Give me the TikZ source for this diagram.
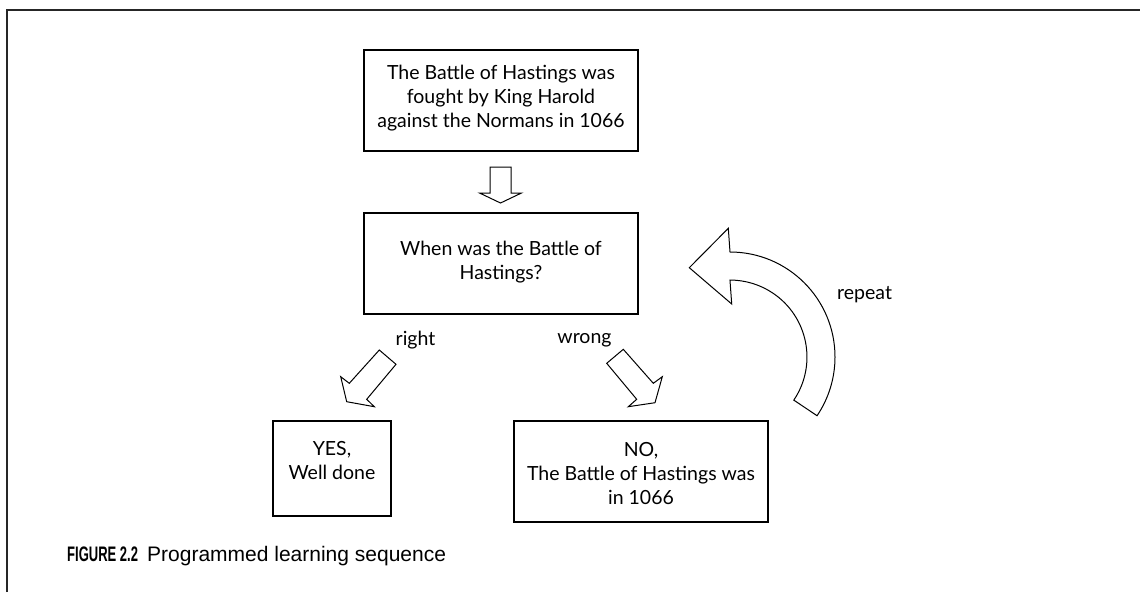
\documentclass[tikz,border=0pt]{standalone}
\usepackage{fontspec}
\setmainfont{Lato}
\newfontfamily\capfont{Liberation Sans}
\newfontfamily\capnumfont[FakeStretch=0.62]{Liberation Sans}
\begin{document}
\begin{tikzpicture}[x=1pt,y=-1pt,
  box/.style={draw, line width=1.1pt, inner sep=0pt},
  txt/.style={align=center, font=\fontsize{19.5}{24}\selectfont, inner sep=0pt},
  lbl/.style={font=\fontsize{19.5}{22}\selectfont, inner sep=0pt},
  blockarrow/.style={draw, line width=1pt, line join=miter, fill=white},
  captxt/.style={anchor=base west, inner sep=0pt}]

\useasboundingbox (0,0) rectangle (1140,592);

% open frame: top rule and left rule
\draw[line width=1.3pt, black!85] (7,592) -- (7,10) -- (1140,10);

% boxes
\node[box, minimum width=274, minimum height=101] (fact) at (501,100.5) {};
\node[box, minimum width=274, minimum height=101] (question) at (501,263.5) {};
\node[box, minimum width=118, minimum height=95] (yes) at (332,468.5) {};
\node[box, minimum width=254, minimum height=101] (no) at (641,471.5) {};

% box texts
\node[txt] (facttxt) at (501,98.5) {The Battle of Hastings was\\fought by King Harold\\against the Normans in 1066};
\node[txt] (questiontxt) at (501,262.5) {When was the Battle of\\Hastings?};
\node[txt] (yestxt) at (332,460) {YES,\\Well done};
\node[txt] (notxt) at (641,474) {NO,\\The Battle of Hastings was\\in 1066};

% block arrows
\draw[blockarrow] (490,167) -- (511,167) -- (511,193) -- (521.5,193) -- (500.5,203)
  -- (479.5,193) -- (490,193) -- cycle;
\draw[blockarrow] (379.3,350) -- (396,364.3) -- (366.7,399.3) -- (374.3,406.7)
  -- (346.7,401.7) -- (340.7,376.7) -- (349.3,383.3) -- cycle;
\draw[blockarrow] (623.3,349.3) -- (606.7,363.3) -- (636.7,399.3) -- (628.3,406.7)
  -- (655,402.7) -- (662.3,376.7) -- (653.3,383.3) -- cycle;
\draw[blockarrow] (689.3,267.7) -- (728.3,228.3) -- (730,252)
  arc[start angle=-90, end angle=34, radius=105] -- (793.8,400.1)
  arc[start angle=34, end angle=-90, radius=77] -- (731.7,304) -- cycle;

% arrow labels
\node[lbl] (right) at (415.5,340) {right};
\node[lbl] (wrong) at (584.5,340) {wrong};
\node[lbl, anchor=west] (repeat) at (837,295) {repeat};

% caption
\node[captxt, font=\capnumfont\fontsize{21}{24}\selectfont] (fignum) at (67,561) {\bfseries FIGURE 2.2};
\node[captxt, font=\capfont\fontsize{21}{24}\selectfont] (figtitle) at (147,561) {Programmed learning sequence};
\end{tikzpicture}
\end{document}
